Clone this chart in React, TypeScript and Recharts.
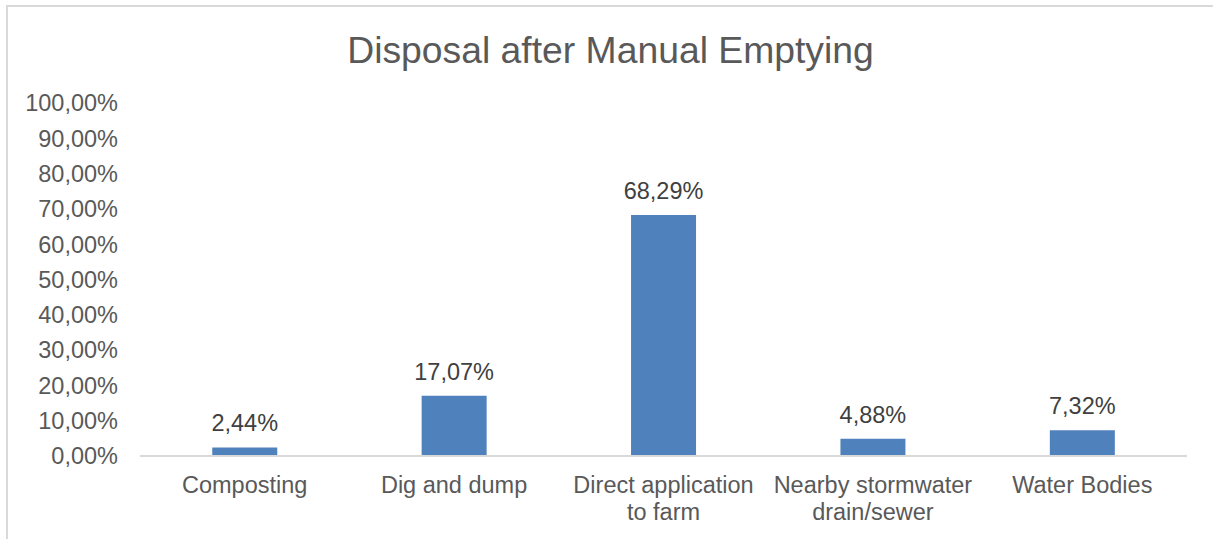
import { BarChart, Bar, XAxis, YAxis, LabelList } from "recharts";

const FONT = '"Liberation Sans", Arial, sans-serif';
const BAR_COLOR = "#4f81bd";
const AXIS_TEXT = "#595959";
const LABEL_TEXT = "#404040";
const GRID = "#d9d9d9";
const TEXT_SIZE = 23.5;

// categories (line breaks where the axis label wraps)
const categories = [
  "Composting",
  "Dig and dump",
  "Direct application\nto farm",
  "Nearby stormwater\ndrain/sewer",
  "Water Bodies",
];
const shares = [0.0244, 0.1707, 0.6829, 0.0488, 0.0732];
const yTicks = [0, 0.1, 0.2, 0.3, 0.4, 0.5, 0.6, 0.7, 0.8, 0.9, 1];

const data = categories.map((name, i) => ({ name, value: shares[i] }));

const pct = (v: number) => (v * 100).toFixed(2).replace(".", ",") + "%";

function CategoryTick({ x, y, payload }: any) {
  const lines = String(payload.value).split("\n");
  return (
    <text x={x} y={y} textAnchor="middle" fill={AXIS_TEXT} fontFamily={FONT} fontSize={TEXT_SIZE}>
      {lines.map((l, i) => (
        <tspan key={i} x={x} dy={i === 0 ? 37 : 27}>
          {l}
        </tspan>
      ))}
    </text>
  );
}

export default function App() {
  return (
    <div
      style={{
        position: "absolute",
        left: 0,
        top: 0,
        width: 1213,
        height: 539,
        overflow: "hidden",
        background: "#fff",
      }}
    >
      {/* chart frame: only its top and left edges fall inside the view */}
      <div
        style={{
          position: "absolute",
          left: 6,
          top: 5,
          width: 1400,
          height: 800,
          borderTop: `2px solid ${GRID}`,
          borderLeft: `2px solid ${GRID}`,
        }}
      />
      <div
        style={{
          position: "absolute",
          left: 8,
          top: 32,
          width: 1205,
          textAlign: "center",
          fontFamily: FONT,
          fontSize: 37.3,
          lineHeight: "37px",
          color: AXIS_TEXT,
        }}
      >
        Disposal after Manual Emptying
      </div>
      <div style={{ position: "absolute", left: 0, top: 0 }}>
        <BarChart
          width={1213}
          height={539}
          data={data}
          margin={{ top: 103, right: 26, left: 0, bottom: 0 }}
          barCategoryGap="34.5%"
        >
          <XAxis
            dataKey="name"
            height={83}
            interval={0}
            tickLine={false}
            tickSize={0}
            tickMargin={0}
            axisLine={{ stroke: GRID, strokeWidth: 2 }}
            tick={<CategoryTick />}
          />
          <YAxis
            width={140}
            domain={[0, 1]}
            ticks={yTicks}
            interval={0}
            axisLine={false}
            tickLine={false}
            tickSize={0}
            tickMargin={22}
            tickFormatter={pct}
            tick={{ fill: AXIS_TEXT, fontSize: TEXT_SIZE, fontFamily: FONT }}
          />
          <Bar dataKey="value" fill={BAR_COLOR} isAnimationActive={false}>
            <LabelList
              dataKey="value"
              position="top"
              offset={16}
              formatter={(v: any) => pct(Number(v))}
              fill={LABEL_TEXT}
              fontSize={TEXT_SIZE}
              fontFamily={FONT}
            />
          </Bar>
        </BarChart>
      </div>
    </div>
  );
}
